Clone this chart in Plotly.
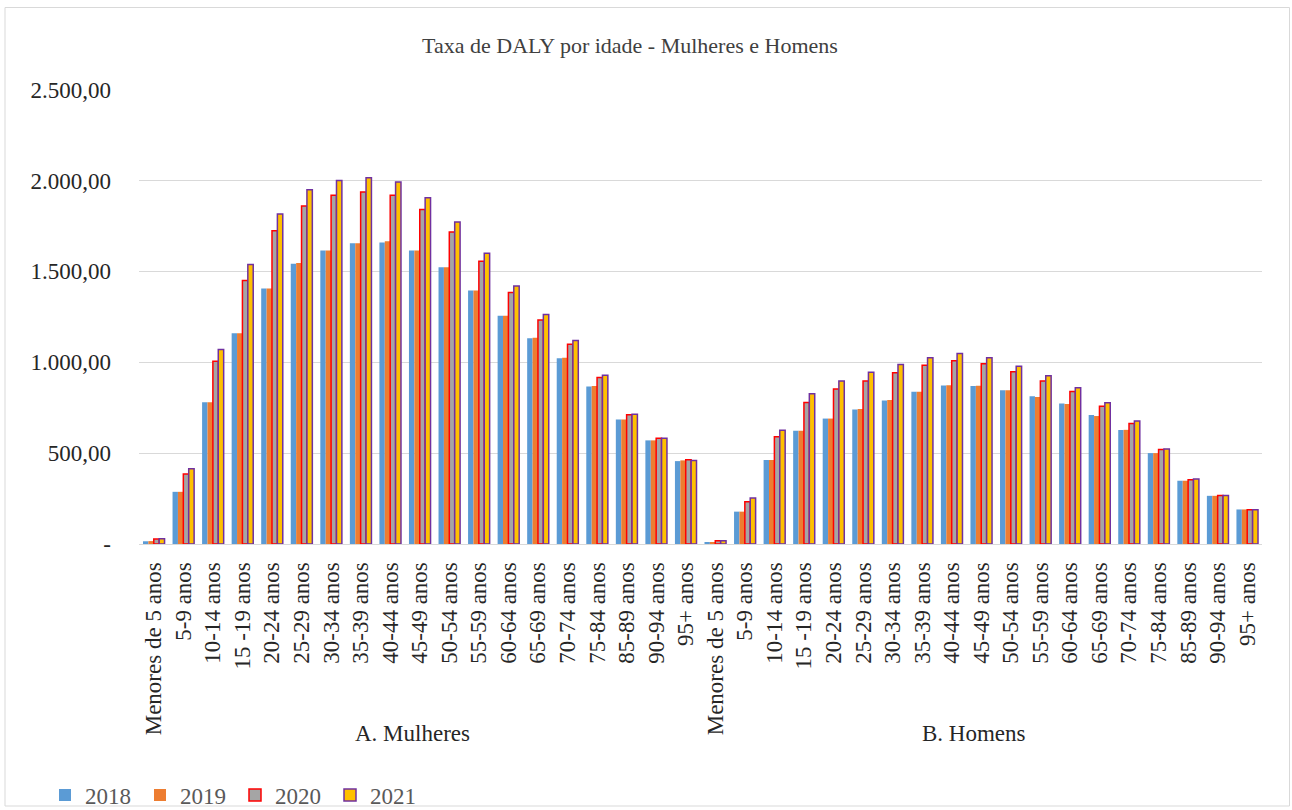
import plotly.graph_objects as go

age_groups = ["Menores de 5 anos", "5-9 anos", "10-14 anos", "15 -19 anos", "20-24 anos",
              "25-29 anos", "30-34 anos", "35-39 anos", "40-44 anos", "45-49 anos",
              "50-54 anos", "55-59 anos", "60-64 anos", "65-69 anos", "70-74 anos",
              "75-84 anos", "85-89 anos", "90-94 anos", "95+ anos"]
groups = ["A. Mulheres", "B. Homens"]
years = ["2018", "2019", "2020", "2021"]

women_2018 = [15, 287, 780, 1159, 1406, 1542, 1615, 1654, 1659, 1615, 1522, 1395, 1256, 1132, 1022, 866, 685, 570, 456]
women_2019 = [16, 287, 780, 1160, 1406, 1546, 1615, 1654, 1665, 1615, 1522, 1395, 1256, 1135, 1025, 869, 685, 570, 460]
women_2020 = [27, 385, 1005, 1450, 1723, 1859, 1919, 1936, 1919, 1840, 1716, 1555, 1384, 1232, 1099, 916, 711, 582, 463]
women_2021 = [29, 414, 1070, 1538, 1815, 1949, 2000, 2015, 1991, 1905, 1771, 1600, 1419, 1262, 1119, 928, 714, 582, 460]

men_2018 = [11, 178, 462, 623, 690, 740, 790, 837, 872, 869, 846, 813, 773, 709, 627, 500, 348, 265, 190]
men_2019 = [11, 178, 462, 623, 690, 742, 792, 837, 873, 870, 846, 809, 770, 704, 628, 500, 348, 265, 190]
men_2020 = [18, 233, 590, 778, 852, 897, 942, 983, 1008, 991, 947, 897, 839, 758, 663, 520, 353, 267, 188]
men_2021 = [18, 253, 626, 826, 896, 945, 987, 1024, 1048, 1024, 978, 925, 859, 777, 677, 523, 357, 267, 188]

y_tick_vals = [0, 500, 1000, 1500, 2000, 2500]
y_tick_text = ["-", "500,00", "1.000,00", "1.500,00", "2.000,00", "2.500,00"]

series = {
    "2018": women_2018 + men_2018,
    "2019": women_2019 + men_2019,
    "2020": women_2020 + men_2020,
    "2021": women_2021 + men_2021,
}
fills = {"2018": "#5B9BD5", "2019": "#ED7D31", "2020": "#A5A5A5", "2021": "#FFC000"}
lines = {"2018": ("#5B9BD5", 0), "2019": ("#ED7D31", 0), "2020": ("#FF0000", 1.5), "2021": ("#7030A0", 1.5)}

labels = age_groups + age_groups
xs = list(range(len(labels)))

FONT = "Liberation Serif, Times New Roman, serif"

fig = go.Figure()
for yr in years:
    lc, lw = lines[yr]
    fig.add_trace(go.Bar(
        x=xs, y=series[yr], name=yr,
        marker=dict(color=fills[yr], line=dict(color=lc, width=lw)),
    ))

fig.update_layout(
    width=1292, height=810, autosize=False,
    margin=dict(l=139, r=30, t=89, b=266, autoexpand=False),
    paper_bgcolor="white", plot_bgcolor="white",
    barmode="group", bargap=0.27, bargroupgap=0,
    font=dict(family=FONT, size=23, color="#262626"),
    title=dict(text="Taxa de DALY por idade - Mulheres e Homens",
               x=630 / 1292, xanchor="center", y=1 - 45 / 810, yanchor="middle",
               font=dict(family=FONT, size=22, color="#404040")),
    legend=dict(orientation="h", x=(45 - 139) / 1123, xanchor="left",
                y=-(795 - 544) / 455, yanchor="middle",
                font=dict(family=FONT, size=23, color="#595959"),
                itemwidth=30, entrywidth=50, entrywidthmode="pixels",
                traceorder="normal", bgcolor="rgba(0,0,0,0)"),
    showlegend=True,
)

fig.update_xaxes(
    tickmode="array", tickvals=xs, ticktext=labels, tickangle=-90,
    range=[-0.5, len(labels) - 0.5], automargin=False,
    showgrid=False, showline=True, linecolor="#D9D9D9", linewidth=1,
    ticks="", ticklabelstandoff=8, tickfont=dict(family=FONT, size=23, color="#262626"),
    zeroline=False,
)
fig.update_yaxes(
    range=[0, 2503], tickmode="array", tickvals=y_tick_vals, ticktext=y_tick_text,
    automargin=False,
    showgrid=True, gridcolor="#D9D9D9", gridwidth=1, zeroline=False,
    showline=False, ticks="", ticklabelstandoff=27,
    tickfont=dict(family=FONT, size=23, color="#262626"),
)

n = len(age_groups)
for gi, g in enumerate(groups):
    center = gi * n + (n - 1) / 2
    fig.add_annotation(x=center, xref="x", y=-(733 - 544) / 455, yref="paper",
                       text=g, showarrow=False, xshift=-7,
                       font=dict(family=FONT, size=23, color="#262626"),
                       xanchor="center", yanchor="middle")

# outer chart border
fig.add_shape(type="rect", xref="paper", yref="paper",
              x0=(5 - 139) / 1123, x1=(1289.5 - 139) / 1123,
              y0=(544 - 806) / 455, y1=(544 - 7.5) / 455,
              line=dict(color="#D9D9D9", width=1), fillcolor="rgba(0,0,0,0)", layer="below")

post = "document.body.style.margin='0';document.body.style.overflow='hidden';"
fig.write_html("out.html",
               config={"displayModeBar": False, "responsive": False},
               post_script=post)
